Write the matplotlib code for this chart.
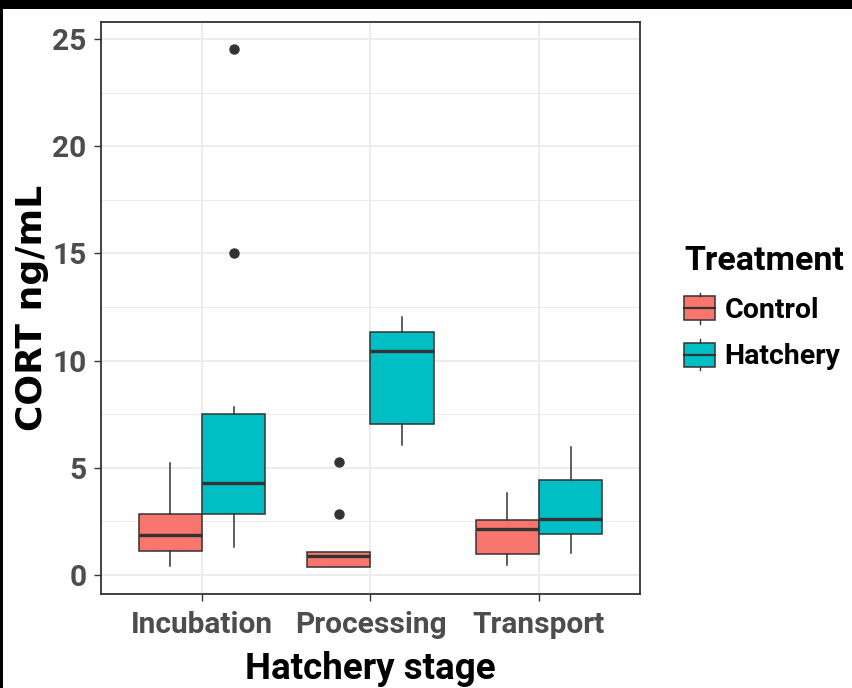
import matplotlib
matplotlib.use("Agg")
import matplotlib.pyplot as plt
from matplotlib.patches import Rectangle, Patch
from matplotlib.lines import Line2D
from matplotlib.legend_handler import HandlerBase
from matplotlib.ticker import MultipleLocator

# ---------------- data ----------------
categories = ['Incubation', 'Processing', 'Transport']
treatments = ['Control', 'Hatchery']
colors = ['#F8766D', '#00BFC4']

control_whislo = [0.40, 0.39, 0.47]
control_q1 = [1.13, 0.39, 0.96]
control_med = [1.87, 0.86, 2.13]
control_q3 = [2.85, 1.06, 2.57]
control_whishi = [5.24, 1.06, 3.81]
control_fliers = [[], [2.85, 5.27], []]

hatchery_whislo = [1.32, 6.06, 1.01]
hatchery_q1 = [2.83, 7.03, 1.90]
hatchery_med = [4.30, 10.45, 2.61]
hatchery_q3 = [7.51, 11.33, 4.43]
hatchery_whishi = [7.82, 12.02, 5.96]
hatchery_fliers = [[15.02, 24.53], [], []]

y_ticks = [0, 5, 10, 15, 20, 25]
x_title = 'Hatchery stage'
y_title = 'CORT ng/mL'
legend_title = 'Treatment'

# ---------------- style ----------------
NARROW = ['Roboto', 'Liberation Sans', 'DejaVu Sans']
EDGE = '#333333'
GRID = '#EBEBEB'

fig = plt.figure(figsize=(8.53, 6.88), dpi=100)
W, H = 853, 688
L, R, T, B = 101, 640, 22, 594
ax = fig.add_axes([L / W, 1 - B / H, (R - L) / W, (B - T) / H])


def stats(wl, q1, md, q3, wh, fl):
    return [dict(whislo=a, q1=b, med=c, q3=d, whishi=e, fliers=f)
            for a, b, c, d, e, f in zip(wl, q1, md, q3, wh, fl)]


groups = [
    stats(control_whislo, control_q1, control_med, control_q3, control_whishi, control_fliers),
    stats(hatchery_whislo, hatchery_q1, hatchery_med, hatchery_q3, hatchery_whishi, hatchery_fliers),
]
offsets = [-0.1875, 0.1875]
bw = 0.375
for g, (st, off, col) in enumerate(zip(groups, offsets, colors)):
    pos = [i + 1 + off for i in range(len(categories))]
    ax.bxp(st, positions=pos, widths=bw, patch_artist=True,
           showcaps=False, manage_ticks=False,
           boxprops=dict(facecolor=col, edgecolor=EDGE, linewidth=1.1),
           medianprops=dict(color=EDGE, linewidth=2.4, solid_capstyle='butt'),
           whiskerprops=dict(color=EDGE, linewidth=1.1),
           flierprops=dict(marker='o', markerfacecolor=EDGE, markeredgecolor=EDGE,
                           markersize=6.5, linestyle='none'),
           zorder=3)

ax.set_xlim(0.4, 3.6)
ax.set_ylim(-0.89, 25.79)
ax.set_xticks([1, 2, 3])
ax.set_xticklabels(categories)
ax.set_yticks(y_ticks)
ax.yaxis.set_minor_locator(MultipleLocator(2.5))
ax.grid(which='major', color=GRID, linewidth=1.3, zorder=0)
ax.grid(which='minor', axis='y', color=GRID, linewidth=0.7, zorder=0)
ax.set_axisbelow(True)
ax.tick_params(axis='y', which='minor', length=0)
ax.tick_params(axis='both', which='major', length=5, width=1.0, color=EDGE,
               labelcolor='#4D4D4D')
ax.tick_params(axis='y', pad=5.5)
ax.tick_params(axis='x', pad=7)
for lab in ax.get_xticklabels() + ax.get_yticklabels():
    lab.set_fontfamily(NARROW)
    lab.set_fontweight('bold')
    lab.set_fontsize(21.5)
for s in ax.spines.values():
    s.set_color(EDGE)
    s.set_linewidth(1.3)

ax.set_xlabel(x_title, fontsize=26.5, fontweight='bold', family=NARROW, color='black',
              va='baseline')
ax.xaxis.set_label_coords(0.5, -(679 - B) / (B - T))
ax.set_ylabel(y_title, fontsize=26, fontweight='bold', family=['DejaVu Sans'], color='black',
              va='baseline')
ax.yaxis.set_label_coords(-(L - 42) / (R - L), 0.5)


# ---------------- legend ----------------
class BoxKey(HandlerBase):
    def create_artists(self, legend, orig_handle, xdescent, ydescent, width, height,
                       fontsize, trans):
        x0, y0 = -xdescent, -ydescent
        fc = orig_handle.get_facecolor()
        lo, hi = y0 + 0.12 * height, y0 + 0.88 * height
        rect = Rectangle((x0, lo), width, hi - lo, facecolor=fc, edgecolor=EDGE,
                         linewidth=1.1, transform=trans)
        med = Line2D([x0, x0 + width], [y0 + height / 2] * 2, color=EDGE, linewidth=1.6,
                     transform=trans)
        wt = Line2D([x0 + width / 2] * 2, [hi, y0 + height], color=EDGE, linewidth=1.0,
                    transform=trans)
        wb = Line2D([x0 + width / 2] * 2, [y0, lo], color=EDGE, linewidth=1.0,
                    transform=trans)
        return [rect, med, wt, wb]


handles = [Patch(facecolor=c, label=t) for c, t in zip(colors, treatments)]
leg = fig.legend(handles=handles, labels=treatments, loc='upper left',
                 bbox_to_anchor=(684 / W, 1 - 245 / H), frameon=False, borderpad=0,
                 borderaxespad=0,
                 handler_map={Patch: BoxKey()},
                 prop=dict(family=NARROW, weight='bold', size=20.5),
                 title=legend_title,
                 title_fontproperties=dict(family=NARROW, weight='bold', size=24.5),
                 alignment='left', handlelength=1.1, handleheight=1.3,
                 handletextpad=0.33, labelspacing=0.55)

# ---------------- frame decoration ----------------
fig.patches.append(Rectangle((0, 1 - 9 / H), 1, 9 / H, transform=fig.transFigure,
                             facecolor='black', edgecolor='none', zorder=10))
fig.patches.append(Rectangle((0, 0), 3 / W, 1, transform=fig.transFigure,
                             facecolor='black', edgecolor='none', zorder=10))

fig.savefig('out.png', dpi=100)
